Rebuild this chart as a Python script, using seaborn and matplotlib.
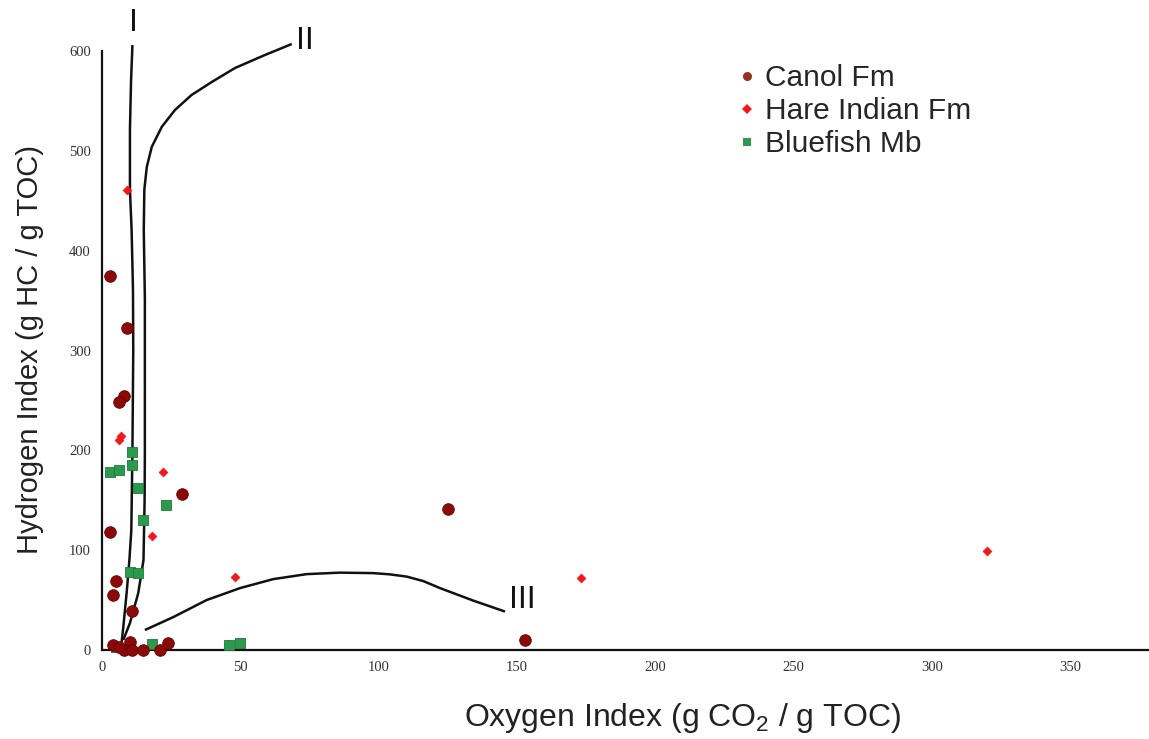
import matplotlib
matplotlib.use("Agg")
import matplotlib.pyplot as plt
from matplotlib.lines import Line2D
import seaborn as sns
import pandas as pd

# ---- data -------------------------------------------------------------
canol_oi = [3, 9, 8, 6, 29, 3, 125, 5, 4, 11, 153, 4, 10, 8, 11, 15, 21, 24, 6]
canol_hi = [375, 323, 254, 248, 156, 118, 141, 69, 55, 39, 10, 5, 8, 0, 0, 0, 0, 7, 3]

hare_oi = [9, 6, 7, 22, 18, 48, 173, 320]
hare_hi = [461, 210, 214, 178, 114, 73, 72, 99]

blue_oi = [11, 11, 3, 6, 13, 15, 23, 10, 13, 5, 18, 46, 50]
blue_hi = [198, 185, 178, 180, 162, 130, 145, 78, 77, 3, 6, 5, 7]

# kerogen type reference curves
type1_oi = [7.1, 7.7, 8.9, 9.9, 10.6, 11.0, 11.3, 11.2, 10.7, 10.1, 10.1, 10.5, 11.0]
type1_hi = [8, 23, 57, 90, 120, 200, 300, 361, 421, 461, 521, 570, 606]

type2_oi = [7.7, 10.1, 13.1, 15.0, 15.4, 15.5, 15.5, 15.5, 15.1, 15.3, 16.2, 18.0,
            21.6, 26.4, 32.4, 39.7, 48.1, 58.9, 68.6]
type2_hi = [10, 27, 57, 90, 150, 200, 280, 351, 421, 461, 484, 504,
            524, 541, 556, 569, 583, 596, 607]

type3_oi = [15.5, 25.8, 37.8, 49.9, 61.9, 74.0, 86.0, 98.1, 104.0, 110.2, 116.2,
            122.2, 134.2, 145.7]
type3_hi = [20, 33, 50, 62, 71, 76, 77.5, 77, 75.8, 73.5, 69.0, 62, 49.5, 38.5]

curve_labels = ["I", "II", "III"]
curve_label_x = [11.5, 73.5, 152]
curve_label_y = [628, 610, 50]

x_ticks = [0, 50, 100, 150, 200, 250, 300, 350]
y_ticks = [0, 100, 200, 300, 400, 500, 600]

series_names = ["Canol Fm", "Hare Indian Fm", "Bluefish Mb"]

# ---- figure -----------------------------------------------------------
sns.set_style("white")
plt.rcParams["font.family"] = ["Liberation Sans", "DejaVu Sans"]
plt.rcParams["mathtext.fontset"] = "custom"
plt.rcParams["mathtext.rm"] = "Liberation Sans"
plt.rcParams["mathtext.it"] = "Liberation Sans"

fig = plt.figure(figsize=(11.49, 7.39), dpi=100)
W, H = 1149, 739
ax = fig.add_axes([102 / W, 89 / H, 1047 / W, 650 / H])
ax.set_xlim(0, 1047 / 2.766)
ax.set_ylim(0, 650 / 0.9983)

df_c = pd.DataFrame({"oi": canol_oi, "hi": canol_hi})
df_h = pd.DataFrame({"oi": hare_oi, "hi": hare_hi})
df_b = pd.DataFrame({"oi": blue_oi, "hi": blue_hi})

col_c, col_h, col_b = "#8a0a0a", "#f01818", "#2b9a4c"

sns.scatterplot(data=df_b, x="oi", y="hi", ax=ax, marker="s", s=60,
                color=col_b, edgecolor="#1f7a3a", linewidth=0.6, clip_on=False, zorder=3)
sns.scatterplot(data=df_c, x="oi", y="hi", ax=ax, marker="o", s=70,
                color=col_c, edgecolor="#6a0000", linewidth=0.6, clip_on=False, zorder=4)
sns.scatterplot(data=df_h, x="oi", y="hi", ax=ax, marker="D", s=22,
                color=col_h, edgecolor=col_h, linewidth=0.3, clip_on=False, zorder=5)

for xs, ys in [(type1_oi, type1_hi), (type2_oi, type2_hi), (type3_oi, type3_hi)]:
    ax.plot(xs, ys, color="#111111", lw=1.8, zorder=2, clip_on=False,
            solid_capstyle="butt", solid_joinstyle="round")

for lab, lx, ly in zip(curve_labels, curve_label_x, curve_label_y):
    ax.text(lx, ly, lab, fontsize=23, ha="center", va="center", color="#111111")

# axes styling
for side in ["top", "right"]:
    ax.spines[side].set_visible(False)
ax.spines["left"].set_bounds(0, 600)
for side in ["left", "bottom"]:
    ax.spines[side].set_linewidth(1.6)
    ax.spines[side].set_color("#111111")
ax.set_xticks(x_ticks)
ax.set_yticks(y_ticks)
ax.tick_params(direction="in", length=4.5, width=1.3, colors="#111111",
               labelsize=10.5, pad=8)
for t in ax.get_xticklabels() + ax.get_yticklabels():
    t.set_fontfamily(["Liberation Serif", "DejaVu Serif"])
    t.set_color("#333333")
ax.set_xlabel("")
ax.set_ylabel("")

fig.text(682 / W, 1 - 718 / H, "Oxygen Index (g CO$_2$ / g TOC)", fontsize=23,
         ha="center", va="center", color="#222222")
fig.text(30 / W, 1 - 350 / H, "Hydrogen Index (g HC / g TOC)", fontsize=21,
         ha="center", va="center", rotation=90, color="#222222")

handles = [
    Line2D([], [], ls="none", marker="o", markersize=6.5, color="#9a3020", markeredgewidth=0),
    Line2D([], [], ls="none", marker="D", markersize=4.8, color=col_h, markeredgewidth=0),
    Line2D([], [], ls="none", marker="s", markersize=6, color=col_b, markeredgewidth=0),
]
ax.legend(handles, series_names, loc="upper left", bbox_to_anchor=(738 / W, 1 - 64 / H),
          bbox_transform=fig.transFigure, frameon=False, fontsize=21.5,
          handlelength=0.6, handletextpad=0.32, labelspacing=0.17, borderpad=0,
          borderaxespad=0)

fig.savefig("out.png", dpi=100)
